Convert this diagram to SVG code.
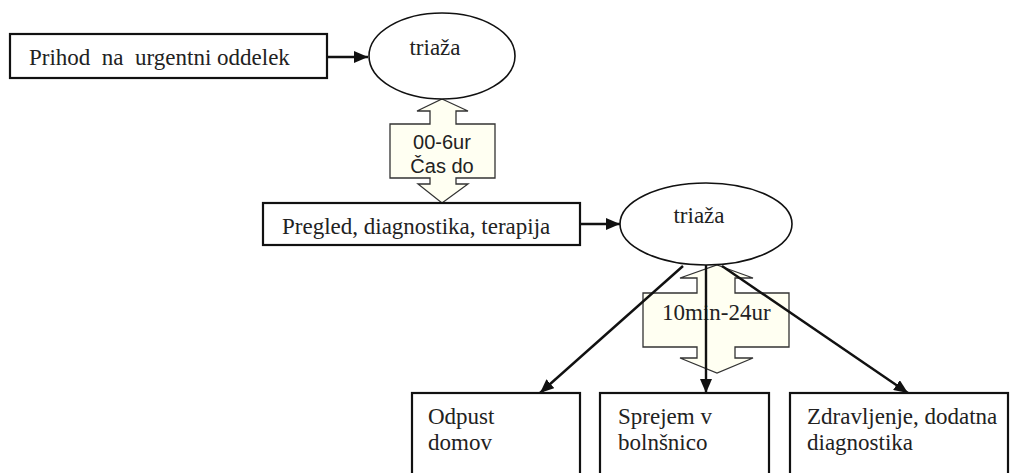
<svg xmlns="http://www.w3.org/2000/svg" width="1011" height="473" viewBox="0 0 1011 473">
<style>
.box{fill:#fff;stroke:#111;stroke-width:2.2}
.ell{fill:#fff;stroke:#111;stroke-width:1.6}
.call{fill:#fffff2;stroke:#333;stroke-width:1.3;stroke-linejoin:miter}
.conn{fill:none;stroke:#111;stroke-width:2.4}
.t{font-family:"Liberation Serif","Times New Roman",serif;font-size:23px;fill:#222}
.s{font-family:"Liberation Sans",Arial,sans-serif;font-size:20px;fill:#222}
</style>
<defs>
<marker id="ah" markerUnits="userSpaceOnUse" markerWidth="14" markerHeight="12" refX="14" refY="6" orient="auto">
<path d="M0,0 L14,6 L0,12 Z" fill="#111"/>
</marker>
</defs>
<rect width="1011" height="473" fill="#fff"/>

<g id="callout1">
<path class="call" d="M442,99 L468,111 L456,111 L456,124 L495,124 L495,178 L456,178 L456,184 L468,184 L442,203 L418,184 L430,184 L430,178 L390,178 L390,124 L430,124 L430,111 L417,111 Z"/>
<text class="s" x="442" y="149" text-anchor="middle">00-6ur</text>
<text class="s" x="442" y="173" text-anchor="middle">Čas do</text>
</g>

<g id="callout2">
<path class="call" d="M717,265 L753,278 L735,278 L735,293 L789,293 L789,347 L735,347 L735,358 L753,358 L717,373 L680,358 L697,358 L697,347 L643,347 L643,293 L697,293 L697,278 L680,278 Z"/>
<text class="t" x="662" y="320">10min-24ur</text>
</g>

<g id="connectors">
<line class="conn" x1="327" y1="57" x2="368" y2="57" marker-end="url(#ah)"/>
<line class="conn" x1="580" y1="224" x2="620" y2="224" marker-end="url(#ah)"/>
<line class="conn" x1="683" y1="266" x2="540" y2="393" marker-end="url(#ah)"/>
<line class="conn" x1="706" y1="265" x2="706" y2="393" marker-end="url(#ah)"/>
<line class="conn" x1="722" y1="266" x2="908" y2="393" marker-end="url(#ah)"/>
</g>

<g id="box-prihod">
<rect class="box" x="10" y="34" width="317" height="44"/>
<text class="t" x="29" y="65" xml:space="preserve">Prihod  na  urgentni oddelek</text>
</g>

<g id="triaza1">
<ellipse class="ell" cx="442" cy="56" rx="73" ry="43"/>
<text class="t" x="435" y="55" text-anchor="middle">triaža</text>
</g>

<g id="box-pregled">
<rect class="box" x="263" y="203" width="317" height="42"/>
<text class="t" x="282" y="234">Pregled, diagnostika, terapija</text>
</g>

<g id="triaza2">
<ellipse class="ell" cx="706" cy="224" rx="86" ry="41"/>
<text class="t" x="699" y="223" text-anchor="middle">triaža</text>
</g>

<g id="box-odpust">
<rect class="box" x="412" y="393" width="168" height="100"/>
<text class="t" x="428" y="424">Odpust</text>
<text class="t" x="428" y="450">domov</text>
</g>

<g id="box-sprejem">
<rect class="box" x="600" y="393" width="169" height="100"/>
<text class="t" x="618" y="424">Sprejem v</text>
<text class="t" x="618" y="450">bolnšnico</text>
</g>

<g id="box-zdravljenje">
<rect class="box" x="790" y="393" width="218" height="100"/>
<text class="t" x="807" y="424">Zdravljenje, dodatna</text>
<text class="t" x="807" y="450">diagnostika</text>
</g>
</svg>
